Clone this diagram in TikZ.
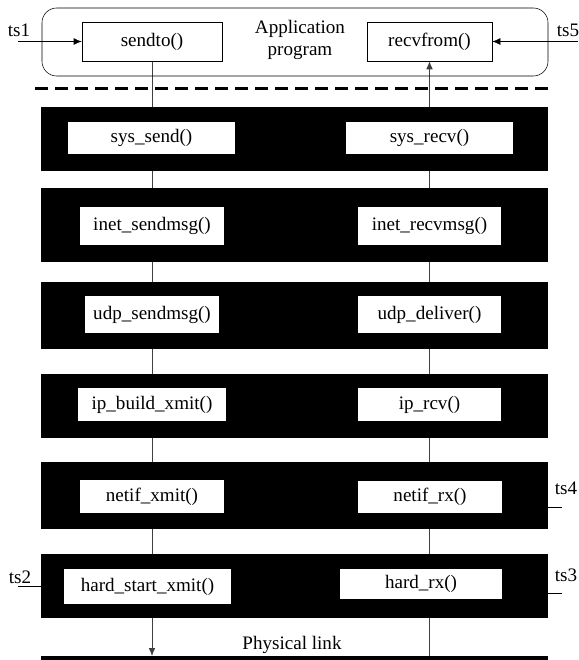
\documentclass[tikz,border=0pt]{standalone}
\usepackage{fontspec}
\setmainfont{Liberation Serif}
\usetikzlibrary{arrows.meta,backgrounds}
\tikzset{
	band/.style        = {fill=black, inner sep=0pt, minimum width=380.25pt,
		minimum height=#1*0.75pt},
	func/.style 2 args = {fill=white, inner sep=0pt, minimum width=#1*0.75pt,
		minimum height=#2*0.75pt},
	call/.style 2 args = {draw, thin, fill=white, inner sep=0pt,
		minimum width=#1*0.75pt, minimum height=#2*0.75pt},
	app/.style         = {draw, thin, rounded corners=11pt, minimum width=379.5pt,
		minimum height=51pt},
	stamp/.style       = {inner sep=0pt},
	link/.style        = {black!75, line width=0.6pt}
}
\newcommand{\fn}[1]{#1()}

\begin{document}
\begin{tikzpicture}[x=0.75pt, y=-0.75pt, >={Latex[length=6pt,width=5pt]},
		font=\fontsize{14.3pt}{17pt}\selectfont]
		\useasboundingbox (0,0) rectangle (578,660);
		\draw
		% Drawing the application program
		node at (295,42)[app] (app) {}
		node at (300,40)[align=center] (apptext) {Application\\program}
		node at (152,41.5)[call={140}{39}] (sendto) {\fn{sendto}}
		node at (429.5,41.5)[call={125}{39}] (recvfrom) {\fn{recvfrom}};
		
		\draw
		% Drawing the kernel layers
		node at (294.5,139)[band=64] (band1) {}
		node at (294.5,225)[band=74] (band2) {}
		node at (294.5,315.5)[band=67] (band3) {}
		node at (294.5,406)[band=64] (band4) {}
		node at (294.5,495.5)[band=67] (band5) {}
		node at (294.5,586)[band=64] (band6) {};
		
		\draw
		% Drawing the send path
		node at (151.5,138)[func={167}{32}] (sys_send) {\fn{sys\_send}}
		node at (152,226)[func={144}{38}] (inet_send) {\fn{inet\_sendmsg}}
		node at (152,314.5)[func={134}{37}] (udp_send) {\fn{udp\_sendmsg}}
		node at (152,404.5)[func={148}{33}] (ip_build) {\fn{ip\_build\_xmit}}
		node at (152,496.5)[func={144}{33}] (netif_xmit) {\fn{netif\_xmit}}
		node at (147.5,586.5)[func={167}{35}] (hard_xmit) {\fn{hard\_start\_xmit}};
		
		\draw
		% Drawing the receive path
		node at (429.5,138)[func={167}{32}] (sys_recv) {\fn{sys\_recv}}
		node at (429.5,226)[func={143}{38}] (inet_recv) {\fn{inet\_recvmsg}}
		node at (429.5,314.5)[func={143}{37}] (udp_deliver) {\fn{udp\_deliver}}
		node at (429.5,404.5)[func={143}{33}] (ip_rcv) {\fn{ip\_rcv}}
		node at (430,497)[func={144}{32}] (netif_rx) {\fn{netif\_rx}}
		node at (421,584)[func={162}{30}] (hard_rx) {\fn{hard\_rx}};
		
		\draw
		% Time stamps and physical link
		node at (19,30)[stamp] (ts1) {ts1}
		node at (568,30)[stamp] (ts5) {ts5}
		node at (20,577)[stamp] (ts2) {ts2}
		node at (566,575)[stamp] (ts3) {ts3}
		node at (566,488)[stamp] (ts4) {ts4}
		node at (292,645) (phys) {Physical link};
		
		\coordinate (in1) at (18,41.5);
		\coordinate (in5) at (578,41.5);
		\coordinate (t2) at (18,586);
		\coordinate (t3) at (562,593);
		\coordinate (t4) at (562,507);
		\coordinate (dashL) at (35,89);
		\coordinate (dashR) at (548,89);
		\coordinate (wireL) at (41,658);
		\coordinate (wireR) at (548,658);
		\coordinate (linkL) at (152,656);
		\coordinate (linkR) at (429.5,656);
		
		\draw[->](in1) -- (sendto);
		\draw[->](in5) -- (recvfrom);
		\draw(t2) -- (t2 -| band6.west);
		\draw(t3) -- (t3 -| band6.east);
		\draw(t4) -- (t4 -| band5.east);
		\draw[line width=2.25pt, dash pattern=on 10pt off 5pt](dashL) -- (dashR);
		\draw[line width=3pt](wireL) -- (wireR);
		
		\begin{scope}[on background layer]
		\draw[link,->](sendto.south) -- (linkL);
		\draw[link,->](linkR) -- (recvfrom.south);
		\end{scope}
		
		\end{tikzpicture}
\end{document}
